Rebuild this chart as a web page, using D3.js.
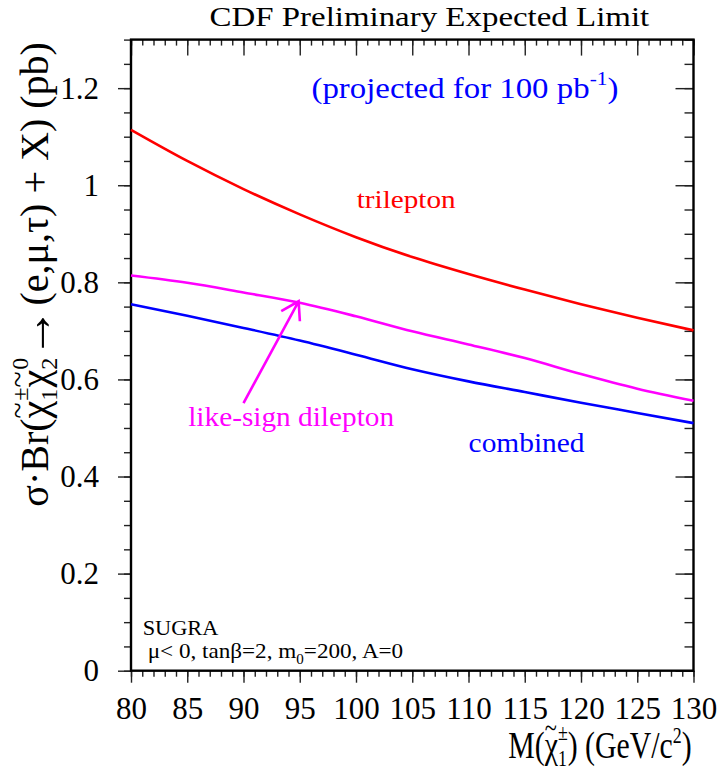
<!DOCTYPE html>
<html>
<head>
<meta charset="utf-8">
<script src="https://d3js.org/d3.v7.min.js"></script>
<style>
  body { margin: 0; background: #fff; }
  text { font-family: "Liberation Serif", "Times New Roman", Times, serif; }
</style>
</head>
<body>
<div id="chartHere"></div>
<script>

// chargino mass points (GeV/c^2)
var mass = [80, 85, 90, 95, 100, 105, 110, 115, 120, 125, 130];

// expected limits, pb
var trilepton = [1.114, 1.050, 0.992, 0.940, 0.893, 0.852, 0.817, 0.785, 0.755, 0.727, 0.701];
var dilepton  = [0.814, 0.799, 0.779, 0.758, 0.730, 0.699, 0.672, 0.644, 0.611, 0.581, 0.556];
var combined  = [0.755, 0.731, 0.706, 0.680, 0.651, 0.621, 0.596, 0.574, 0.552, 0.531, 0.510];

var xTicks = [80, 85, 90, 95, 100, 105, 110, 115, 120, 125, 130];
var yTicks = [0, 0.2, 0.4, 0.6, 0.8, 1, 1.2];

// arrow pointing at the like-sign curve: [mass, limit]
var arrowTail = [90.0, 0.551];
var arrowTip  = [94.9, 0.761];

var W = 721, H = 773;
var margin = {top: 39.6, right: 27.5, bottom: 102.3, left: 131};

var svg = d3.select('#chartHere').append('svg')
    .attr('width', W)
    .attr('height', H);

svg.append('rect').attr('width', W).attr('height', H).attr('fill', '#fff');

var x = d3.scaleLinear().domain([80, 130]).range([margin.left, W - margin.right]);
var y = d3.scaleLinear().domain([0, 1.3]).range([H - margin.bottom, margin.top]);

// lay out a run of text pieces (sub/sup, accents), then stretch to a target width
function richText(parent, runs, o) {
    var g = parent.append('g');
    var inner = g.append('g');
    var pos = 0, lastStart = 0, lastW = 0;
    runs.forEach(function (r) {
        var fs = o.size * (r.s || 1);
        var t = inner.append('text')
            .text(r.t)
            .attr('font-size', fs)
            .attr('y', (r.dy || 0) * o.size)
            .attr('fill', o.fill || '#000')
            .style('white-space', 'pre');
        var w = t.node().getComputedTextLength();
        if (r.mode === 'over') {
            t.attr('x', lastStart + lastW / 2 - w / 2 + (r.dx || 0) * o.size);
        } else if (r.mode === 'stack') {
            t.attr('x', lastStart);
            pos = Math.max(pos, lastStart + w);
        } else {
            t.attr('x', pos + (r.dx || 0) * o.size);
            lastStart = pos; lastW = w;
            pos += w + (r.dx || 0) * o.size;
        }
    });
    var sx = o.width ? o.width / pos : 1;
    var off = o.anchor === 'middle' ? pos / 2 : (o.anchor === 'end' ? pos : 0);
    inner.attr('transform', 'scale(' + sx + ',1) translate(' + (-off) + ',0)');
    g.attr('transform', 'translate(' + o.x + ',' + o.y + ') rotate(' + (o.rotate || 0) + ')');
    return g;
}

// ---- axes ----
function styleAxis(g) {
    g.select('.domain').remove();
    g.selectAll('.tick line').attr('stroke', '#222').attr('stroke-width', 1.4);
}

var minorY = d3.range(0, 1.3001, 0.05);
var minorX = d3.range(80, 130.001, 1);

// left: outward ticks with labels
svg.append('g').attr('transform', 'translate(' + margin.left + ',0)')
    .call(d3.axisLeft(y).tickValues(minorY).tickSize(7).tickFormat(''))
    .call(styleAxis);
var yAx = svg.append('g').attr('transform', 'translate(' + margin.left + ',0)')
    .call(d3.axisLeft(y).tickValues(yTicks).tickSize(13).tickPadding(19).tickFormat(function (d) { return String(d); }))
    .call(styleAxis);
yAx.attr('font-family', null).attr('font-size', null);
yAx.selectAll('text').attr('font-size', 31).attr('fill', '#000');

// right: inward ticks
svg.append('g').attr('transform', 'translate(' + (W - margin.right) + ',0)')
    .call(d3.axisLeft(y).tickValues(minorY).tickSize(9).tickFormat(''))
    .call(styleAxis);
svg.append('g').attr('transform', 'translate(' + (W - margin.right) + ',0)')
    .call(d3.axisLeft(y).tickValues(yTicks).tickSize(18).tickFormat(''))
    .call(styleAxis);

// top: inward ticks
svg.append('g').attr('transform', 'translate(0,' + margin.top + ')')
    .call(d3.axisBottom(x).tickValues(minorX).tickSize(6).tickFormat(''))
    .call(styleAxis);
svg.append('g').attr('transform', 'translate(0,' + margin.top + ')')
    .call(d3.axisBottom(x).tickValues(xTicks).tickSize(16).tickFormat(''))
    .call(styleAxis);

// bottom: outward ticks with labels
svg.append('g').attr('transform', 'translate(0,' + (H - margin.bottom) + ')')
    .call(d3.axisBottom(x).tickValues(minorX).tickSize(6).tickFormat(''))
    .call(styleAxis);
var xAx = svg.append('g').attr('transform', 'translate(0,' + (H - margin.bottom) + ')')
    .call(d3.axisBottom(x).tickValues(xTicks).tickSize(12).tickFormat(function (d) { return String(d); }))
    .call(styleAxis);
xAx.attr('font-family', null).attr('font-size', null);
xAx.selectAll('text').attr('font-size', 31).attr('fill', '#000').attr('y', 48.5).attr('dy', null);

// frame
svg.append('rect')
    .attr('x', margin.left).attr('y', margin.top)
    .attr('width', W - margin.left - margin.right)
    .attr('height', H - margin.top - margin.bottom)
    .attr('fill', 'none').attr('stroke', '#000').attr('stroke-width', 2.4);

// ---- curves ----
var series = [
    {vals: trilepton, color: '#ff0000'},
    {vals: dilepton,  color: '#ff00ff'},
    {vals: combined,  color: '#0000ff'}
];
var line = d3.line()
    .x(function (d) { return x(d[0]); })
    .y(function (d) { return y(d[1]); })
    .curve(d3.curveMonotoneX);

series.forEach(function (s) {
    svg.append('path')
        .datum(mass.map(function (m, i) { return [m, s.vals[i]]; }))
        .attr('d', line)
        .attr('fill', 'none')
        .attr('stroke', s.color)
        .attr('stroke-width', 2.6);
});

// arrow
var tx = x(arrowTip[0]), ty = y(arrowTip[1]);
var bx = x(arrowTail[0]), by = y(arrowTail[1]);
var ang = Math.atan2(by - ty, bx - tx);
var barb = 20, spread = 32 * Math.PI / 180;
svg.append('path')
    .attr('d', 'M' + bx + ',' + by + 'L' + tx + ',' + ty +
        'M' + (tx + barb * Math.cos(ang - spread)) + ',' + (ty + barb * Math.sin(ang - spread)) +
        'L' + tx + ',' + ty +
        'L' + (tx + barb * Math.cos(ang + spread)) + ',' + (ty + barb * Math.sin(ang + spread)))
    .attr('fill', 'none')
    .attr('stroke', '#ff00ff')
    .attr('stroke-width', 2.6);

// ---- texts ----
richText(svg, [{t: 'CDF Preliminary Expected Limit'}],
    {x: 209.5, y: 26, size: 28, width: 440});

richText(svg, [{t: '(projected for 100 pb'}, {t: '-1', s: 0.65, dy: -0.45}, {t: ')'}],
    {x: 311.5, y: 98, size: 29, width: 307, fill: '#0000ff'});

richText(svg, [{t: 'trilepton'}], {x: 356.7, y: 208.3, size: 26, width: 99, fill: '#ff0000'});
richText(svg, [{t: 'like-sign dilepton'}], {x: 188.2, y: 425.5, size: 27, width: 206, fill: '#ff00ff'});
richText(svg, [{t: 'combined'}], {x: 468.6, y: 451.7, size: 27, width: 116, fill: '#0000ff'});

richText(svg, [{t: 'SUGRA'}], {x: 142.7, y: 635, size: 21, width: 75.7});
richText(svg, [{t: 'μ< 0, tanβ=2, m'}, {t: '0', s: 0.65, dy: 0.25}, {t: '=200, A=0'}],
    {x: 147.7, y: 658.3, size: 21, width: 255.6});

// x title
richText(svg, [
    {t: 'M('},
    {t: 'χ'}, {t: '~', s: 0.75, dy: -0.52, mode: 'over', dx: -0.02},
    {t: '1', s: 0.6, dy: 0.2}, {t: '±', s: 0.6, dy: -0.48, mode: 'stack'},
    {t: ') (GeV/c'}, {t: '2', s: 0.6, dy: -0.4}, {t: ')'}
], {x: 508.3, y: 758, size: 38, width: 183.4});

// y title
richText(svg, [
    {t: 'σ·Br('},
    {t: 'χ'}, {t: '~', s: 0.75, dy: -0.52, mode: 'over', dx: -0.02},
    {t: '1', s: 0.6, dy: 0.22}, {t: '±', s: 0.6, dy: -0.5, mode: 'stack'},
    {t: 'χ'}, {t: '~', s: 0.75, dy: -0.52, mode: 'over', dx: -0.02},
    {t: '2', s: 0.6, dy: 0.22}, {t: '0', s: 0.6, dy: -0.5, mode: 'stack'},
    {t: '→', s: 1.25, dy: 0.06}, {t: '(e,μ,τ) + X) (pb)', dx: 0.05}
], {x: 48.3, y: 506.7, size: 40, width: 464.7, rotate: -90});

</script>
</body>
</html>
